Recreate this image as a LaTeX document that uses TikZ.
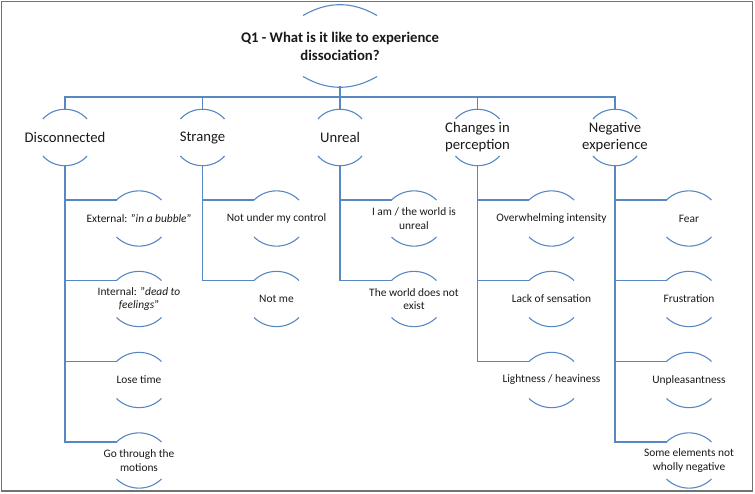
\documentclass[tikz,border=0pt]{standalone}
\usepackage{fontspec}
\setmainfont{Carlito}
\usepackage{xcolor}
\usetikzlibrary{calc}
\definecolor{linkblue}{RGB}{88,136,196}
\definecolor{inkgray}{RGB}{25,25,25}

\begin{document}
\begin{tikzpicture}[
  x=1pt,y=-1pt,
  root/.style={text=inkgray,align=center,font=\fontsize{14.7}{18}\selectfont\bfseries},
  cat/.style={text=inkgray,align=center,font=\fontsize{14.7}{17}\selectfont},
  leaf/.style={text=inkgray,align=center,font=\fontsize{11.4}{13.5}\selectfont},
  arcline/.style={draw=linkblue,line width=1.1pt},
  link/.style={draw=linkblue,line width=1.1pt},
  frame/.style={draw=black!55,line width=1.6pt},
]
\useasboundingbox (0,0) rectangle (755,494);
\draw[frame] (1.5,1.5) rectangle (752.5,491);

% question
\node[root] (q1) at (340,46) {Q1 - What is it like to experience\\dissociation?};
\draw[arcline] ($(q1.center)+(-37,-30.5)$) to[bend left=30] ($(q1.center)+(37,-30.5)$);
\draw[arcline] ($(q1.center)+(-37,30.5)$) to[bend right=30] ($(q1.center)+(37,30.5)$);
\coordinate (q1-bot) at ($(q1.center)+(0,40.5)$);

% themes
\node[cat] (dis) at (65,137.5) {Disconnected};
\node[cat] (str) at (202.5,137.5) {Strange};
\node[cat] (unr) at (340,137.5) {Unreal};
\node[cat] (chg) at (477.5,137.5) {Changes in\\perception};
\node[cat] (neg) at (615,137.5) {Negative\\experience};
\foreach \n in {dis,str,unr,chg,neg}{
  \draw[arcline] ($(\n.center)+(-22,-18.5)$) to[bend left=49] ($(\n.center)+(22,-18.5)$);
  \draw[arcline] ($(\n.center)+(-22,18.5)$) to[bend right=49] ($(\n.center)+(22,18.5)$);
  \coordinate (\n-top) at ($(\n.center)+(0,-28.5)$);
  \coordinate (\n-bot) at ($(\n.center)+(0,28.5)$);
}

% sub-themes
\node[leaf] (dis1) at (139,218.5) {External: "\textit{in a bubble}"};
\node[leaf] (dis2) at (139,299) {Internal: "\textit{dead to}\\\textit{feelings}"};
\node[leaf] (dis3) at (139,380) {Lose time};
\node[leaf] (dis4) at (139,460.5) {Go through the\\motions};
\node[leaf] (str1) at (276.5,218.5) {Not under my control};
\node[leaf] (str2) at (276.5,299) {Not me};
\node[leaf] (unr1) at (414,218.5) {I am / the world is\\unreal};
\node[leaf] (unr2) at (414,299) {The world does not\\exist};
\node[leaf] (chg1) at (551.5,218.5) {Overwhelming intensity};
\node[leaf] (chg2) at (551.5,299) {Lack of sensation};
\node[leaf] (chg3) at (551.5,380) {Lightness / heaviness};
\node[leaf] (neg1) at (689,218.5) {Fear};
\node[leaf] (neg2) at (689,299) {Frustration};
\node[leaf] (neg3) at (689,380) {Unpleasantness};
\node[leaf] (neg4) at (689,460.5) {Some elements not\\wholly negative};
\foreach \n in {dis1,dis2,dis3,dis4,str1,str2,unr1,unr2,chg1,chg2,chg3,neg1,neg2,neg3,neg4}{
  \draw[arcline] ($(\n.center)+(-22.5,-18.5)$) to[bend left=44] ($(\n.center)+(22.5,-18.5)$);
  \draw[arcline] ($(\n.center)+(-22.5,18.5)$) to[bend right=44] ($(\n.center)+(22.5,18.5)$);
  \coordinate (\n-in) at ($(\n.center)+(-22.5,-18.5)$);
}

% connectors
\draw[link] (q1-bot) -- (unr-top);
\draw[link] (dis-top) -- ++(0,-12) -| (neg-top);
\foreach \n in {str,chg}
  \draw[link] (\n-top) -- ++(0,-12);
\draw[link] (dis-bot) |- (dis4-in);
\draw[link] (str-bot) |- (str2-in);
\draw[link] (unr-bot) |- (unr2-in);
\draw[link] (chg-bot) |- (chg3-in);
\draw[link] (neg-bot) |- (neg4-in);
\foreach \p/\c in {dis/dis1,dis/dis2,dis/dis3,str/str1,unr/unr1,chg/chg1,chg/chg2,neg/neg1,neg/neg2,neg/neg3}
  \draw[link] (\c-in) -- (\c-in -| \p-bot);
\end{tikzpicture}
\end{document}
